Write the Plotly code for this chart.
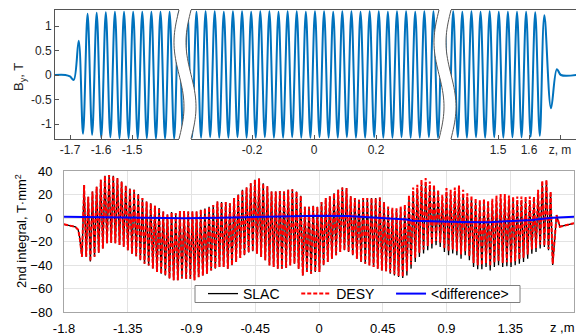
import numpy as np
import plotly.graph_objects as go

W, H = 576, 335
FONT = "Arial, 'Liberation Sans', sans-serif"

# ---------------- data ----------------
UND_PERIOD = 0.0294      # m, undulator period (extremum spacing = half of it)
Z_FIRST = -1.658         # z of first full extremum

# --- top panel: B_y, T (field minima at k-th grid point, maxima half a period later)
by_entry_z = [-1.75, -1.715, -1.700, -1.688, -1.672]
by_entry_b = [0.0, 0.0, -0.03, -0.10, 0.70]
by_exit_z = [1.671, 1.690, 1.703, 1.752]
by_exit_b = [-0.68, 0.12, 0.0, 0.0]

by_seg1_k0 = 0
by_seg1_min = [-1.20, -1.22, -1.28, -1.27, -1.29, -1.29, -1.30, -1.29, -1.30, -1.30, -1.30, -1.30, -1.30]
by_seg1_max = [1.25, 1.27, 1.28, 1.29, 1.29, 1.29, 1.29, 1.29, 1.29, 1.29, 1.29, 1.29]

by_seg2_k0 = 41
by_seg2_min = [-1.28, -1.27, -1.28, -1.28, -1.27, -1.28, -1.28, -1.27, -1.28, -1.28, -1.27, -1.28,
               -1.28, -1.27, -1.28, -1.28, -1.27, -1.28, -1.28, -1.27, -1.28, -1.28, -1.27, -1.28,
               -1.28, -1.27, -1.28, -1.28, -1.27, -1.28, -1.28, -1.27]
by_seg2_max = [1.30, 1.30, 1.29, 1.30, 1.30, 1.29, 1.30, 1.30, 1.29, 1.30, 1.30, 1.29,
               1.30, 1.30, 1.29, 1.30, 1.30, 1.29, 1.30, 1.30, 1.29, 1.30, 1.30, 1.29,
               1.30, 1.30, 1.29, 1.30, 1.30, 1.29, 1.30, 1.30]

by_seg3_k0 = 101
by_seg3_min = [-1.27, -1.28, -1.27, -1.28, -1.27, -1.28, -1.27, -1.28, -1.27, -1.27, -1.26, -1.24]
by_seg3_max = [1.29, 1.30, 1.29, 1.30, 1.29, 1.30, 1.29, 1.29, 1.29, 1.29, 1.28, 1.22]

# --- bottom panel: 2nd integral, T*mm^2 (peaks at k-th grid point, troughs half a period later)
int_entry_z = [-1.80, -1.76, -1.72, -1.70, -1.69, -1.68, -1.673]
int_entry_v = [-5.4, -6.5, -7.5, -10.0, -16.0, -26.0, -33.0]
int_exit_z = [1.677, 1.690, 1.700, 1.730, 1.770, 1.800]
int_exit_v = [2.5, -4.0, -7.4, -6.5, -5.0, -4.5]

slac_peaks = [28, 18, 22.5, 26.5, 32.5, 36, 36.5, 36, 34, 31, 27.5, 25, 24, 20.5, 17, 14, 12.5,
              10.5, 8.5, 5.5, 3, 5, 4, 6, 6,
              5.5, 5.5, 5.5, 7, 8, 9.5, 11, 14, 13.5, 13.5, 12.5, 17, 20, 24, 26, 29.5, 32.5, 33.5,
              29.5, 27, 22.5, 22.5, 23, 22.5, 24, 24.5, 22.5, 19, 9.5, 9.5, 10.5,
              9.5, 13.5, 17, 18.5, 21, 24, 26, 25.5, 18.5, 17, 15.5, 17, 17, 17, 17, 17.5, 13.5,
              8.7, 7.8, 7.3, 8.7,
              8.2, 16.2, 22.5, 24.8, 29.1, 30.5, 27.6, 24.8, 20.5, 16.2, 21.9, 20.5, 22.5, 24.2,
              20.5, 17.6, 15.6, 13.4, 11.9, 12.8, 11.1, 12.8, 15.6, 16.8, 16.8, 15.6, 14.8, 14.8,
              14.8, 14.8, 14.8, 14.8, 20.5,
              30.7, 31.6, 21.6]
slac_troughs = [-33, -37, -33, -29.5, -26, -21.5, -21, -21.5, -23, -24.5, -27.5, -30.5, -32.5, -36,
                -39, -40.5, -43, -46, -47.5, -49, -51.5, -53, -53, -51.5, -52,
                -51.7, -53, -50.3, -48.9, -47.4, -44.6, -43.1, -41.7, -41.7, -43.1, -40.3, -37.4,
                -34, -31.7, -29.4, -28.3, -30.3, -33.1, -36, -40.3, -41.7, -43.1, -43.1, -42.5,
                -40.3, -38.9, -43.1, -48.9, -46, -47.4, -46,
                -46, -40.3, -37.4, -34.6, -31.7, -28.9, -27.4, -28.9, -31.7, -34.6, -37.4, -38.9,
                -40.3, -41.7, -43.1, -44.6, -45.4,
                -47.4, -48.9, -50.3, -51.1,
                -48.9, -43.1, -37.4, -33.1, -30.3, -27.4, -26, -23.1, -24.6, -28.9, -31.7, -30.3,
                -31.7, -34.6, -31.7, -36, -41.7, -43.7, -43.7, -41.7, -44.6, -41.7, -40.3, -41.7,
                -41.1, -41.7, -40.3, -38.9, -37.4, -34.6, -30.3, -28.9, -26,
                -24.6, -27.4, -40]

desy_peaks = [28, 18, 22.5, 26.5, 32.5, 36, 36.5, 36, 34, 31, 27.5, 25, 24, 20.5, 17, 14, 12.5,
              10.5, 8.5, 5.5, 3, 5, 4, 6, 6,
              5.5, 5.5, 5.5, 7, 8, 9.5, 11, 14, 13.5, 13.5, 12.5, 17, 20, 24, 26, 29.5, 32.5, 33.5,
              29.5, 27, 22.5, 22.5, 23, 22.5, 24, 24.5, 22.5, 19, 9.5, 9.5, 10.5,
              9.5, 13.5, 17, 18.5, 21, 24, 26, 25.5, 18.5, 17, 15.5, 17, 17, 17, 17, 17.5, 13.5,
              9.7, 8.8, 8.3, 9.7,
              11.7, 19.7, 26, 28.3, 32.6, 34, 31.1, 28.3, 24, 19.7, 25.4, 24, 26, 27.7, 24, 21.1,
              19.1, 16.9, 15.4, 16.3, 14.6, 16.3, 19.1, 20.3, 20.3, 19.1, 18.3, 18.3, 18.3, 18.3,
              18.3, 18.3, 24,
              31.7, 32.6, 22.6]
desy_troughs = [-33, -37, -33, -29.5, -26, -21.5, -21, -21.5, -23, -24.5, -27.5, -30.5, -32.5, -36,
                -39, -40.5, -43, -46, -47.5, -49, -51.5, -53, -53, -51.5, -52,
                -51.7, -53, -50.3, -48.9, -47.4, -44.6, -43.1, -41.7, -41.7, -43.1, -40.3, -37.4,
                -34, -31.7, -29.4, -28.3, -30.3, -33.1, -36, -40.3, -41.7, -43.1, -43.1, -42.5,
                -40.3, -38.9, -43.1, -48.9, -46, -47.4, -46,
                -46, -40.3, -37.4, -34.6, -31.7, -28.9, -27.4, -28.9, -31.7, -34.6, -37.4, -38.9,
                -40.3, -41.7, -43.1, -44.6, -45.4,
                -46.4, -47.9, -49.3, -50.1,
                -45.4, -39.6, -33.9, -29.6, -26.8, -23.9, -22.5, -19.6, -21.1, -25.4, -28.2, -26.8,
                -28.2, -31.1, -28.2, -32.5, -38.2, -40.2, -40.2, -38.2, -41.1, -38.2, -36.8, -38.2,
                -37.6, -38.2, -36.8, -35.4, -33.9, -31.1, -26.8, -25.4, -22.5,
                -23.6, -26.4, -39]

diff_z = [-1.8, -1.5, -1.2, -0.95, -0.7, -0.45, -0.2, 0.0, 0.2, 0.4, 0.55, 0.62, 0.66, 0.8, 1.0,
          1.2, 1.35, 1.5, 1.65, 1.8]
diff_v = [1.1, 0.8, 0.3, -0.2, 0.3, 0.8, 1.4, 2.0, 1.7, 0.4, -0.4, -1.2, -2.4, -2.9, -3.3,
          -3.6, -2.6, -1.6, 0.2, 1.1]

legend_names = ["SLAC", "DESY", "&lt;difference&gt;"]

top_ticks = {1: [-1.7, -1.6, -1.5], 2: [-0.2, 0, 0.2], 3: [1.5, 1.6, 1.7]}
top_ticktext = {1: ["-1.7", "-1.6", "-1.5"], 2: ["-0.2", "0", "0.2"], 3: ["1.5", "1.6", "z, m"]}
by_yticks = [-1, -0.5, 0, 0.5, 1]
by_yticktext = ["-1", "-0.5", "0", "0.5", "1"]
bot_xticks = [-1.8, -1.35, -0.9, -0.45, 0, 0.45, 0.9, 1.35]
bot_xticktext = ["-1.8", "-1.35", "-0.9", "-0.45", "0", "0.45", "0.9", "1.35"]
bot_yticks = [-80, -60, -40, -20, 0, 20, 40]


def zigzag(k0, first, second):
    z, v = [], []
    for i, a in enumerate(first):
        k = k0 + i
        z.append(Z_FIRST + k * UND_PERIOD)
        v.append(a)
        if i < len(second):
            z.append(Z_FIRST + (k + 0.5) * UND_PERIOD)
            v.append(second[i])
    return z, v


# ---------------- layout geometry (pixels) ----------------
def px(x):
    return x / W


def py(y):
    return 1 - y / H


TOP_Y0, TOP_Y1 = 10, 139
SCALE = 310.0  # px per metre in the top panel
seg_px = {1: (55, 184), 2: (185.5, 444), 3: (446, 576)}
seg_ref = {1: (70, -1.7), 2: (314, 0.0), 3: (498, 1.5)}
seg_range = {}
for s, (a, b) in seg_px.items():
    xr, zr = seg_ref[s]
    seg_range[s] = [zr + (a - xr) / SCALE, zr + (b - xr) / SCALE]

BY_RANGE = [-1.306, 1.327]
NBSP = "\u00a0"

fig = go.Figure()

# top traces
s1z, s1b = zigzag(by_seg1_k0, by_seg1_min, by_seg1_max)
s2z, s2b = zigzag(by_seg2_k0, by_seg2_min, by_seg2_max)
s3z, s3b = zigzag(by_seg3_k0, by_seg3_min, by_seg3_max)
blue = "#0072BD"
for xa, zz, bb in [("x", by_entry_z + s1z, by_entry_b + s1b),
                   ("x2", s2z, s2b),
                   ("x3", s3z + by_exit_z, s3b + by_exit_b)]:
    fig.add_trace(go.Scatter(x=zz, y=bb, xaxis=xa, yaxis="y", mode="lines",
                             line=dict(color=blue, width=2, shape="spline", smoothing=1.0),
                             showlegend=False, hoverinfo="skip"))

# bottom traces
sz, sv = zigzag(0, slac_peaks, slac_troughs)
dz, dv = zigzag(0, desy_peaks, desy_troughs)
fig.add_trace(go.Scatter(x=int_entry_z + sz + int_exit_z, y=int_entry_v + sv + int_exit_v,
                         xaxis="x4", yaxis="y3", mode="lines", name=legend_names[0] + NBSP * 3,
                         line=dict(color="black", width=1.3)))
fig.add_trace(go.Scatter(x=int_entry_z + dz + int_exit_z, y=int_entry_v + dv + int_exit_v,
                         xaxis="x4", yaxis="y3", mode="lines", name=legend_names[1] + NBSP * 3,
                         line=dict(color="#FF0000", width=2.0, dash="4px,2px")))
fig.add_trace(go.Scatter(x=diff_z, y=diff_v, xaxis="x4", yaxis="y3", mode="lines",
                         name=legend_names[2], line=dict(color="#0000FF", width=2.0)))

axcol = "#555555"
tickfont_top = dict(family=FONT, size=12, color="#262626")
layout = dict(
    template="none",
    width=W, height=H, margin=dict(l=0, r=0, t=0, b=0, pad=0), autosize=False,
    paper_bgcolor="white", plot_bgcolor="rgba(0,0,0,0)",
    font=dict(family=FONT, size=12, color="black"),
    hovermode=False,
)
for s in (1, 2, 3):
    key = "xaxis" if s == 1 else f"xaxis{s}"
    layout[key] = dict(domain=[px(seg_px[s][0]), px(seg_px[s][1])], range=seg_range[s],
                       anchor="y", tickvals=top_ticks[s], ticktext=top_ticktext[s],
                       ticks="inside", ticklen=4, tickcolor=axcol, showline=True,
                       linecolor=axcol, linewidth=1, mirror=True, showgrid=False,
                       zeroline=False, tickfont=tickfont_top, automargin=False)
layout["yaxis"] = dict(domain=[py(TOP_Y1), py(TOP_Y0)], range=BY_RANGE, anchor="x",
                       tickvals=by_yticks, ticktext=by_yticktext, ticks="inside", ticklen=4,
                       tickcolor=axcol, showline=True, linecolor=axcol, linewidth=1,
                       showgrid=False, zeroline=False, tickfont=tickfont_top, automargin=False)
layout["yaxis2"] = dict(domain=[py(TOP_Y1), py(TOP_Y0)], range=BY_RANGE, anchor="x3",
                        overlaying="y", side="right", tickvals=by_yticks, ticks="inside",
                        ticklen=4, tickcolor=axcol, showticklabels=False, showline=False,
                        showgrid=False, zeroline=False, automargin=False)
grid = "#e3e3e3"
frame = "#a6a6a6"
layout["xaxis4"] = dict(domain=[px(64), px(574)], range=[-1.8, 1.8], anchor="y3",
                        tickvals=bot_xticks, ticktext=bot_xticktext, ticks="outside",
                        ticklen=4, tickcolor="rgba(0,0,0,0)", showgrid=True, gridcolor=grid,
                        showline=True, mirror=True, linecolor=frame, linewidth=1,
                        zeroline=False, tickfont=dict(family=FONT, size=13, color="black"),
                        automargin=False)
layout["yaxis3"] = dict(domain=[py(312), py(171)], range=[-80, 40], anchor="x4",
                        tickvals=bot_yticks, ticks="outside", ticklen=8,
                        tickcolor="rgba(0,0,0,0)", showgrid=True, gridcolor=grid,
                        showline=True, mirror=True, linecolor=frame, linewidth=1,
                        zeroline=False, tickfont=dict(family=FONT, size=13, color="black"),
                        automargin=False)
layout["legend"] = dict(orientation="h", x=px(203), y=py(294), xanchor="left",
                        yanchor="middle", bgcolor="rgba(0,0,0,0)", borderwidth=0,
                        font=dict(family=FONT, size=14, color="black"),
                        itemwidth=30, tracegroupgap=0)
fig.update_layout(**layout)

# broken-axis gaps: white masks with wavy borders
shapes = []
tt = np.linspace(0, 1, 41)
AMP = 5.0
for cl, cr in [(179, 191), (439, 451)]:
    yy = TOP_Y0 + (TOP_Y1 - TOP_Y0) * tt
    xl = cl - AMP * np.sin(2 * np.pi * tt)
    xr = cr - AMP * np.sin(2 * np.pi * tt)
    pts = [(xl[0], TOP_Y0 - 3)] + list(zip(xl, yy)) + [(xl[-1], TOP_Y1 + 3), (xr[-1], TOP_Y1 + 3)] \
        + list(zip(xr[::-1], yy[::-1])) + [(xr[0], TOP_Y0 - 3)]
    path = "M " + " L ".join(f"{px(a):.5f},{py(b):.5f}" for a, b in pts) + " Z"
    shapes.append(dict(type="path", xref="paper", yref="paper", path=path,
                       fillcolor="white", line=dict(width=0), layer="above"))
    for xs in (xl, xr):
        p = "M " + " L ".join(f"{px(a):.5f},{py(b):.5f}" for a, b in zip(xs, yy))
        shapes.append(dict(type="path", xref="paper", yref="paper", path=p,
                           line=dict(color="#555555", width=1), layer="above"))
# legend frame
shapes.append(dict(type="rect", xref="paper", yref="paper", x0=px(195), x1=px(520),
                   y0=py(302.5), y1=py(285.5), fillcolor="white",
                   line=dict(color="#7f7f7f", width=1), layer="above"))
fig.update_layout(shapes=shapes)

fig.add_annotation(text="B<sub>y</sub>, T", x=px(19), y=py(77), xref="paper", yref="paper",
                   xanchor="center", yanchor="middle", textangle=-90, showarrow=False,
                   font=dict(family=FONT, size=13, color="#262626"))
fig.add_annotation(text="2nd integral, T·mm<sup>2</sup>", x=px(21), y=py(231), xref="paper",
                   yref="paper", xanchor="center", yanchor="middle", textangle=-90,
                   showarrow=False, font=dict(family=FONT, size=13, color="black"))
fig.add_annotation(text="z ,m", x=px(562), y=py(327), xref="paper", yref="paper",
                   xanchor="center", yanchor="middle", showarrow=False,
                   font=dict(family=FONT, size=13, color="black"))

fig.write_html("out.html", config={"displayModeBar": False, "staticPlot": True},
               post_script="document.body.style.margin='0px';document.body.style.padding='0px';")
